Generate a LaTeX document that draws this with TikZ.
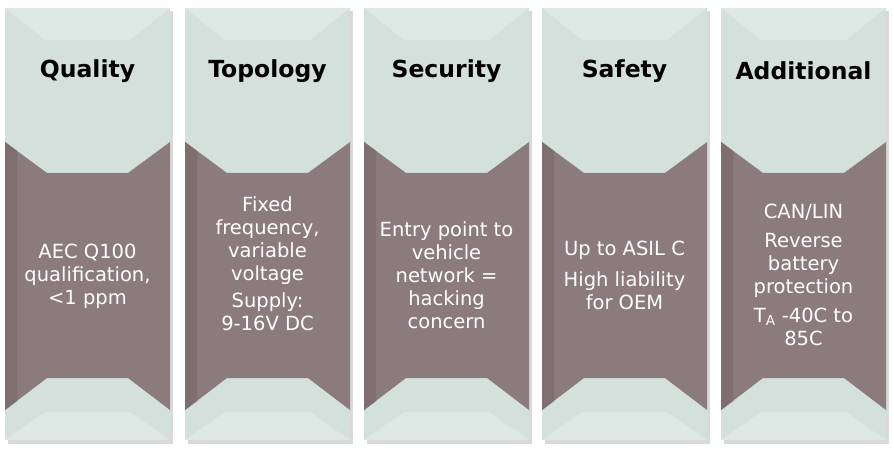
\documentclass[tikz,border=0pt]{standalone}
\usepackage{fontspec}
\setmainfont{DejaVu Sans}
\begin{document}
\begin{tikzpicture}[x=1pt,y=-1pt,
  title/.style={font=\fontsize{23.5}{26}\selectfont\bfseries,text=black},
  body/.style={font=\fontsize{19.5}{23}\selectfont,text=white,align=center}]
\definecolor{lgt}{HTML}{D3E0DC}
\definecolor{lgt2}{HTML}{DDE8E4}
\definecolor{brn}{HTML}{8B7B7D}
\definecolor{brn2}{HTML}{7E6E70}
\useasboundingbox (0,0) rectangle (894,449);
\foreach \x/\t [count=\i] in {5/Quality,185/Topology,364/Security,542/Safety,721/Additional}{
  \fill[gray!30] (\x+3,11) rectangle (\x+168,444);
  \fill[lgt] (\x,8) rectangle (\x+165,440);
  \fill[lgt2] (\x,8) -- (\x+165,8) -- (\x+125,40) -- (\x+40,40) -- cycle;
  \fill[lgt2] (\x,440) -- (\x+165,440) -- (\x+125,412) -- (\x+40,412) -- cycle;
  \fill[brn] (\x,142) -- (\x+42,173) -- (\x+123,173) -- (\x+165,142) -- (\x+165,410) -- (\x+123,378) -- (\x+42,378) -- (\x,410) -- cycle;
  \fill[brn2] (\x,142) -- (\x+12,151) -- (\x+12,401) -- (\x,410) -- cycle;
  \node[title] (t\i) at (\x+82.5,71) {\t};
}
\node[body] (b1) at (87.5,276) {AEC Q100\\qualification,\\<1 ppm};
\node[body] (b2) at (267.5,264) {Fixed\\frequency,\\variable\\voltage\\[4pt]Supply:\\9-16V DC};
\node[body] (b3) at (446.5,275) {Entry point to\\vehicle\\network =\\hacking\\concern};
\node[body] (b4) at (624.5,275) {Up to ASIL C\\[8pt]High liability\\for OEM};
\node[body] (b5) at (803.5,275) {CAN/LIN\\[6pt]Reverse\\battery\\protection\\[6pt]T\textsubscript{A} -40C to\\85C};
\end{tikzpicture}
\end{document}
